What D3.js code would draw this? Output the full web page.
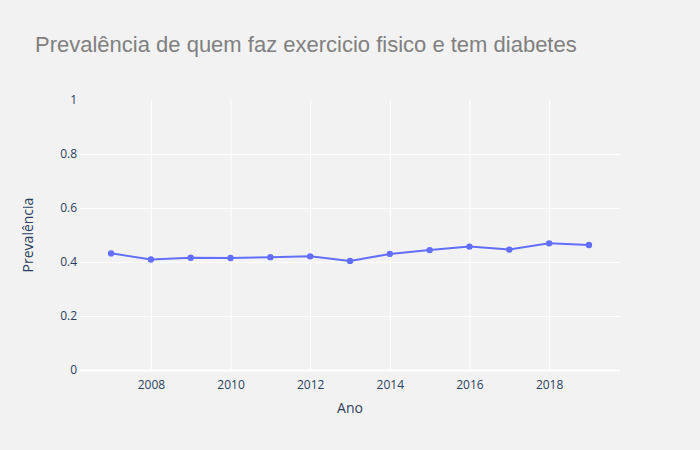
<!DOCTYPE html>
<html>
<head>
<meta charset="utf-8">
<script src="https://cdn.jsdelivr.net/npm/d3@7"></script>
<style>
  body { margin: 0; background: #f2f2f2; }
  svg { display: block; }
  .tick text { font-family: "Open Sans", sans-serif; font-size: 12px; fill: #2a3f5f; }
</style>
</head>
<body>
<svg width="700" height="450"></svg>
<script>
const anos = [2007, 2008, 2009, 2010, 2011, 2012, 2013, 2014, 2015, 2016, 2017, 2018, 2019];
const prevalencia = [0.432, 0.409, 0.416, 0.415, 0.418, 0.421, 0.404, 0.430, 0.444, 0.457, 0.446, 0.469, 0.463];
const xTicks = [2008, 2010, 2012, 2014, 2016, 2018];
const yTicks = [0, 0.2, 0.4, 0.6, 0.8, 1];

const svg = d3.select('svg');
const largura = +svg.attr('width');
const altura = +svg.attr('height');
const marg = { cima: 100, direita: 80, baixo: 80, esquerda: 80 };
const innerLargura = largura - marg.esquerda - marg.direita;
const innerAltura = altura - marg.cima - marg.baixo;

const data = anos.map((a, i) => ({ ano: a, valor: prevalencia[i] }));

svg.append('rect').attr('width', largura).attr('height', altura).attr('fill', '#f2f2f2');

const xEscala = d3.scaleLinear()
    .domain([2006.22, 2019.78])
    .range([0, innerLargura]);

const yEscala = d3.scaleLinear()
    .domain([0, 1])
    .range([innerAltura, 0]);

const g = svg.append('g')
    .attr('transform', `translate(${marg.esquerda},${marg.cima})`);

// grades
const xAxisG = g.append('g')
    .attr('transform', `translate(0,${innerAltura})`)
    .call(d3.axisBottom(xEscala).tickValues(xTicks).tickFormat(d3.format('d')).tickSize(-innerAltura).tickPadding(8));
xAxisG.select('.domain').remove();
xAxisG.selectAll('.tick line').attr('stroke', '#ffffff').attr('stroke-width', 1);
xAxisG.selectAll('.tick text').attr('dy', '0.9em');

const yAxisG = g.append('g')
    .call(d3.axisLeft(yEscala).tickValues(yTicks).tickFormat(d => d3.format('~g')(d)).tickSize(-innerLargura).tickPadding(3));
yAxisG.select('.domain').remove();
yAxisG.selectAll('.tick line')
    .attr('stroke', '#ffffff')
    .attr('stroke-width', d => d === 0 ? 2 : 1)
    .attr('display', d => d === 1 ? 'none' : null);

const linha = d3.line()
    .x(d => xEscala(d.ano))
    .y(d => yEscala(d.valor));

g.append('path')
    .datum(data)
    .attr('fill', 'none')
    .attr('stroke', '#636efa')
    .attr('stroke-width', 2)
    .attr('d', linha);

g.selectAll('circle').data(data)
    .enter().append('circle')
        .attr('cx', d => xEscala(d.ano))
        .attr('cy', d => yEscala(d.valor))
        .attr('r', 3.2)
        .attr('fill', '#636efa');

svg.append('text')
    .attr('x', 35)
    .attr('y', 44)
    .attr('dy', '0.35em')
    .attr('font-family', '"Liberation Sans", Arial, sans-serif')
    .attr('font-size', 22)
    .attr('fill', '#808080')
    .text('Prevalência de quem faz exercicio fisico e tem diabetes');

svg.append('text')
    .attr('x', marg.esquerda + innerLargura / 2)
    .attr('y', 408)
    .attr('dy', '0.35em')
    .attr('text-anchor', 'middle')
    .attr('font-family', '"Open Sans", sans-serif')
    .attr('font-size', 14)
    .attr('fill', '#2a3f5f')
    .text('Ano');

svg.append('text')
    .attr('transform', `translate(28,${marg.cima + innerAltura / 2}) rotate(-90)`)
    .attr('dy', '0.35em')
    .attr('text-anchor', 'middle')
    .attr('font-family', '"Open Sans", sans-serif')
    .attr('font-size', 14)
    .attr('fill', '#2a3f5f')
    .text('Prevalência');
</script>
</body>
</html>
